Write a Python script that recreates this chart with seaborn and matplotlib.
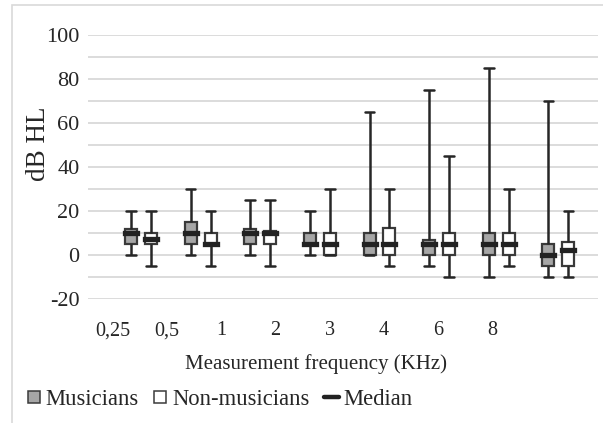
import numpy as np
import pandas as pd
import matplotlib
matplotlib.use("Agg")
import matplotlib.pyplot as plt
from matplotlib.patches import Rectangle
from matplotlib.lines import Line2D
import seaborn as sns

# ---- data: five-number summaries (min, Q1, median, Q3, max) in dB HL ----
freqs = ["0,25", "0,5", "1", "2", "3", "4", "6", "8"]
groups = ["Musicians", "Non-musicians"]
mus_min = [0, 0, 0, 0, 0, -5, -10, -10]
mus_q1 = [5, 5, 5, 5, 0, 0, 0, -5]
mus_med = [10, 10, 10, 5, 5, 5, 5, 0]
mus_q3 = [12, 15, 12, 10, 10, 7, 10, 5]
mus_max = [20, 30, 25, 20, 65, 75, 85, 70]
non_min = [-5, -5, -5, 0, -5, -10, -5, -10]
non_q1 = [5, 5, 5, 0, 0, 0, 0, -5]
non_med = [7.5, 5, 10, 5, 5, 5, 5, 2.5]
non_q3 = [10, 10, 11, 10, 12.5, 10, 10, 6]
non_max = [20, 20, 25, 30, 30, 45, 30, 20]
yticks = [-20, 0, 20, 40, 60, 80, 100]
legend_labels = ["Musicians", "Non-musicians", "Median"]

rows = []
for g, arrs in zip(groups, [(mus_min, mus_q1, mus_med, mus_q3, mus_max),
                            (non_min, non_q1, non_med, non_q3, non_max)]):
    for i, f in enumerate(freqs):
        for a in arrs:
            rows.append({"freq": f, "group": g, "value": a[i]})
df = pd.DataFrame(rows)

sns.set_style("white")
plt.rcParams["font.family"] = ["Liberation Serif", "DejaVu Serif"]
plt.rcParams["axes.unicode_minus"] = False

fig = plt.figure(figsize=(6.03, 4.23), dpi=100)
ax = fig.add_axes([0.146, 0.293, 0.846, 0.624])

edge = "#3a3a3a"
sns.boxplot(
    data=df, x="freq", y="value", hue="group", order=freqs, hue_order=groups,
    palette={"Musicians": "#a6a6a6", "Non-musicians": "white"},
    width=0.67, gap=0.4, whis=(0, 100), showfliers=False,
    linecolor=edge, linewidth=1.6,
    medianprops=dict(color="#222222", linewidth=3.8, solid_capstyle="projecting"),
    whiskerprops=dict(color="#262626", linewidth=1.8),
    capprops=dict(color="#262626", linewidth=1.8, gid="cap"),
    legend=False, ax=ax, zorder=3,
)

# widen the whisker caps a little (Excel style)
for ln in ax.lines:
    if ln.get_gid() == "cap":
        xd = np.asarray(ln.get_xdata(), dtype=float)
        c = xd.mean()
        ln.set_xdata(c + (xd - c) * 1.6)

ax.set_ylim(-20, 100)
ax.set_yticks(yticks)
ax.set_yticks(np.arange(-20, 101, 10), minor=True)
ax.grid(True, which="both", axis="y", color="#d9d9d9", linewidth=1.3, zorder=0)
ax.grid(False, axis="x")
ax.set_axisbelow(True)
for s in ax.spines.values():
    s.set_visible(False)

ax.set_xlim(-0.889, 7.668)
ax.set_xticks([-0.470 + 0.9094 * i for i in range(len(freqs))])
ax.set_xticklabels(freqs)
ax.tick_params(axis="both", which="both", length=0, colors="#262626")
ax.tick_params(axis="x", pad=16, labelsize=14.5)
ax.tick_params(axis="y", pad=6, labelsize=16)

ax.set_xlabel("Measurement frequency (KHz)", fontsize=15, color="#262626")
ax.xaxis.label.set_va("center")
ax.xaxis.set_label_coords(0.447, -0.246)
ax.set_ylabel("dB HL", fontsize=19.5, color="#262626")
ax.yaxis.label.set_va("center")
ax.yaxis.set_label_coords(-0.098, 0.587)

handles = [
    Line2D([], [], linestyle="none", marker="s", markersize=8.6,
           markerfacecolor="#a6a6a6", markeredgecolor=edge, markeredgewidth=1.1),
    Line2D([], [], linestyle="none", marker="s", markersize=8.6,
           markerfacecolor="white", markeredgecolor=edge, markeredgewidth=1.1),
    Line2D([], [], color="#222222", linewidth=3.2),
]
fig.legend(handles, legend_labels, loc="center left", bbox_to_anchor=(0.043, 0.055),
           ncol=3, frameon=False, fontsize=16.3, handlelength=0.68,
           handletextpad=0.2, columnspacing=0.6, borderaxespad=0, borderpad=0,
           labelcolor="#262626")

# chart-area border
fig.patches.append(Rectangle((12 / 603, -0.01), 1.0, 1 - 5 / 423 + 0.01, transform=fig.transFigure,
                             fill=False, edgecolor="#d9d9d9", linewidth=1.2))

fig.savefig("out.png", dpi=100)
